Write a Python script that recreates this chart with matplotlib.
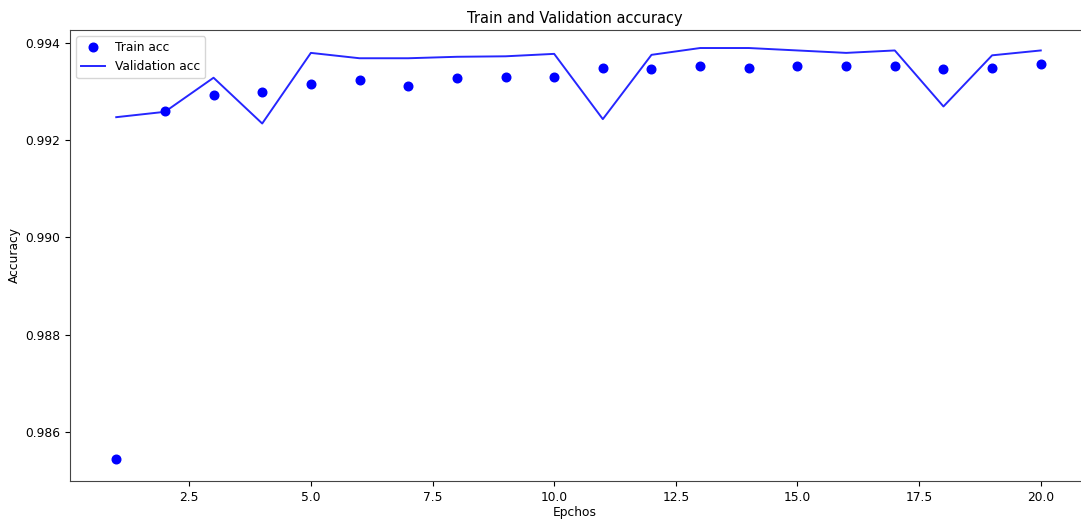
import matplotlib.pyplot as plt

epochs = list(range(1, 21))
train_acc = [0.98545, 0.99260, 0.99293, 0.99298, 0.99316, 0.99323, 0.99312, 0.99327, 0.99330, 0.99330,
             0.99347, 0.99345, 0.99353, 0.99347, 0.99353, 0.99353, 0.99353, 0.99345, 0.99347, 0.99356]
val_acc = [0.99247, 0.99258, 0.99328, 0.99234, 0.99379, 0.99368, 0.99368, 0.99371, 0.99372, 0.99377,
           0.99243, 0.99375, 0.99389, 0.99389, 0.99384, 0.99379, 0.99384, 0.99269, 0.99374, 0.99384]

plt.rcParams["font.size"] = 8.8
plt.rcParams["axes.edgecolor"] = "#444444"

# the original screenshot crops the right edge of the axes
fig = plt.figure(figsize=(10.81, 5.21), dpi=100)
ax = fig.add_axes([70 / 1081, 1 - 481 / 521, 1017 / 1081, 451 / 521])
ax.plot(epochs, train_acc, "bo", markersize=6.2, label="Train acc")
ax.plot(epochs, val_acc, "b", linewidth=1.4, alpha=0.85, label="Validation acc")
ax.set_title("Train and Validation accuracy", fontsize=10.5, pad=5, x=505 / 1017)
ax.set_xlabel("Epchos", labelpad=2)
ax.xaxis.set_label_coords(505 / 1017, -0.055)
ax.set_ylabel("Accuracy", labelpad=3)
ax.set_ylim(0.98500, 0.99426)
ax.legend(loc="upper left")

fig.savefig("out.png", dpi=100)
